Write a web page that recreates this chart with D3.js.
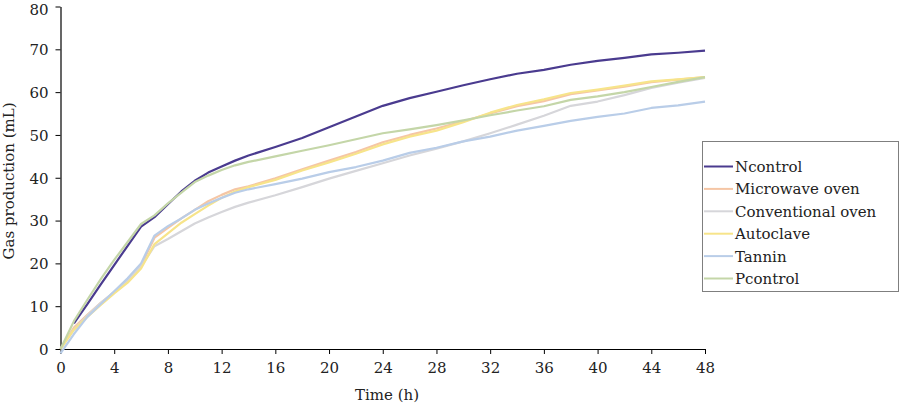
<!DOCTYPE html>
<html>
<head>
<meta charset="utf-8">
<script src="https://cdn.jsdelivr.net/npm/d3@7"></script>
<style>
  html, body { margin: 0; padding: 0; background: #fff; }
  svg { display: block; font-family: "DejaVu Serif", "Liberation Serif", serif; }
</style>
</head>
<body>
<svg id="chart" width="900" height="406"></svg>
<script>
const hours = [0,1,2,3,4,5,6,7,8,9,10,11,12,13,14,16,18,20,22,24,26,28,30,32,34,36,38,40,42,44,46,48];
const xTicks = [0,4,8,12,16,20,24,28,32,36,40,44,48];
const yTicks = [0,10,20,30,40,50,60,70,80];
const seriesNames = ["Ncontrol","Microwave oven","Conventional oven","Autoclave","Tannin","Pcontrol"];
const seriesColors = ["#4a3b8f","#f5c6a5","#d6d6da","#f7e48a","#b9cde8","#c4d6a8"];

const ncontrol     = [null,6,10.5,15.1,19.6,24.1,28.6,30.8,33.8,36.8,39.3,41.2,42.6,44,45.2,47.2,49.3,51.8,54.3,56.8,58.6,60.1,61.6,63,64.3,65.2,66.4,67.3,68,68.8,69.2,69.7];
const microwave    = [0,5,8,10.8,13.3,16,19.5,26,28.3,30.5,32.5,34.5,36,37.3,38,39.9,42,44,46,48.3,50,51.5,53.2,55,56.7,57.9,59.5,60.4,61.3,62.3,62.9,63.5];
const conventional = [0,4.5,7.8,10.8,13.3,16,19.3,24,25.7,27.5,29.3,30.7,32,33.2,34.2,35.9,37.8,39.8,41.6,43.4,45.2,46.8,48.5,50.4,52.4,54.5,56.8,57.8,59.3,61,62.2,63.3];
const autoclave    = [0,4.5,7.5,10.3,13,15.5,18.8,24.5,27,29.5,31.5,33.5,35.3,36.8,37.8,39.5,41.7,43.6,45.6,47.8,49.6,51,53,55.2,57,58.3,59.8,60.6,61.5,62.5,63,63.5];
const tannin       = [-1,3.5,7.5,10.5,13.5,16.5,20,26.5,28.7,30.5,32.5,34,35.3,36.5,37.3,38.5,39.8,41.3,42.5,44,45.8,47,48.5,49.6,51,52.1,53.3,54.2,55,56.3,56.9,57.8];
const pcontrol     = [0,6.5,11.5,16.3,20.8,25,29.2,31.2,34,36.5,39,40.5,41.8,42.9,43.7,45,46.3,47.6,49,50.4,51.3,52.3,53.4,54.6,55.7,56.7,58.2,59,60,61.2,62.4,63.5];

const seriesValues = [ncontrol, microwave, conventional, autoclave, tannin, pcontrol];

const svg = d3.select("#chart");
const x = d3.scaleLinear().domain([0,48]).range([60.5,705]);
const y = d3.scaleLinear().domain([0,80]).range([349,6.5]);

// axes
const xAxis = d3.axisBottom(x).tickValues(xTicks).tickSizeInner(5).tickSizeOuter(0).tickPadding(8);
const gx = svg.append("g").attr("transform", `translate(0,${y(0)})`).call(xAxis);
gx.select(".domain").attr("stroke","#000").attr("stroke-width",1.2);
gx.selectAll(".tick line").attr("stroke","#000");
gx.selectAll(".tick text").attr("font-size",15).attr("fill","#222").attr("font-family","DejaVu Serif");

const yAxis = d3.axisLeft(y).tickValues(yTicks).tickSizeInner(5).tickSizeOuter(0).tickPadding(7);
const gy = svg.append("g").attr("transform", `translate(${x(0)},0)`).call(yAxis);
gy.select(".domain").attr("stroke","#000").attr("stroke-width",1.2);
gy.selectAll(".tick line").attr("stroke","#000");
gy.selectAll(".tick text").attr("font-size",15).attr("fill","#222").attr("font-family","DejaVu Serif")
  .attr("dy", d => d === 80 ? "0.5em" : "0.36em");

// axis titles
svg.append("text").attr("x", 387).attr("y", 400).attr("text-anchor","middle")
  .attr("font-size",15).attr("fill","#222").text("Time (h)");
svg.append("text").attr("transform","translate(14,181) rotate(-90)").attr("text-anchor","middle")
  .attr("font-size",15).attr("fill","#222").text("Gas production (mL)");

// lines
const line = d3.line()
  .defined(d => d.v !== null)
  .x(d => x(d.t)).y(d => y(d.v));

seriesValues.forEach((vals, i) => {
  const pts = hours.map((t, j) => ({t, v: vals[j]}));
  svg.append("path").datum(pts)
    .attr("fill","none")
    .attr("stroke", seriesColors[i])
    .attr("stroke-width", 2.2)
    .attr("stroke-linejoin","round")
    .attr("d", line);
});

// legend
const lg = svg.append("g");
lg.append("rect").attr("x",702.5).attr("y",141.5).attr("width",196).attr("height",150)
  .attr("fill","#fff").attr("stroke","#7f7f7f").attr("stroke-width",1);
seriesNames.forEach((name, i) => {
  const yy = 166.5 + i * 22.4;
  lg.append("line").attr("x1",704).attr("x2",733).attr("y1",yy).attr("y2",yy)
    .attr("stroke", seriesColors[i]).attr("stroke-width",2);
  lg.append("text").attr("x",735).attr("y",yy + 5.5).attr("font-size",15)
    .attr("fill","#222").text(name);
});
</script>
</body>
</html>
